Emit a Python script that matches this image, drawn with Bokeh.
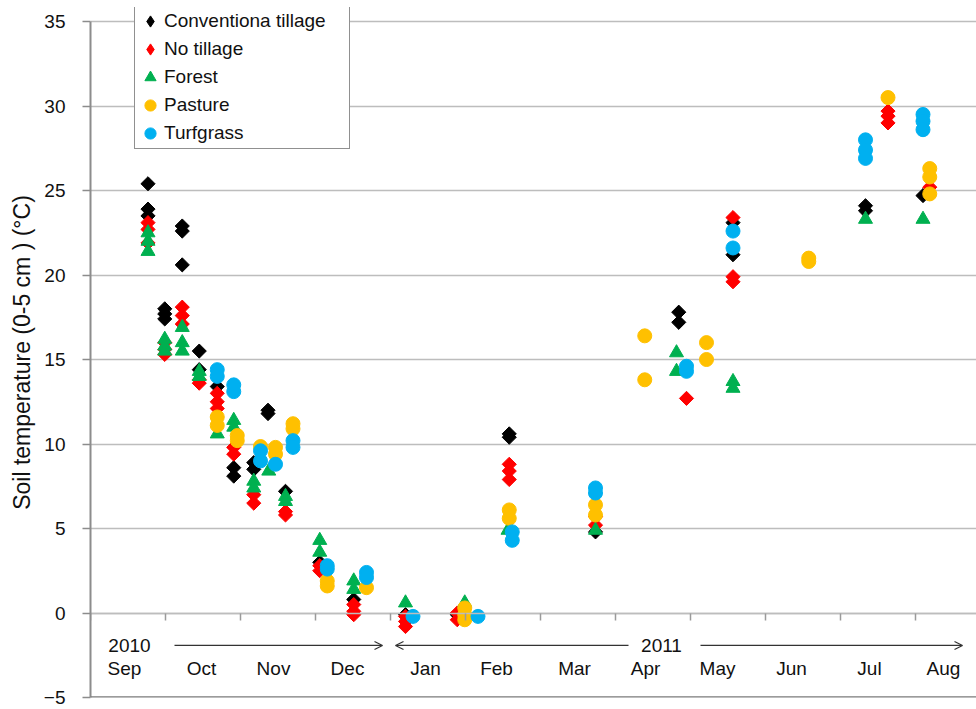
import math
from bokeh.plotting import figure
from bokeh.models import (Range1d, SingleIntervalTicker, LinearAxis, Legend, LegendItem,
                          Arrow, OpenHead, Span, CustomJSTickFormatter)
from bokeh.core.properties import value
from bokeh.embed import file_html
from bokeh.resources import INLINE

FONT = "Liberation Sans"

# x = days since 1 Sep 2010, y = soil temperature (0-5 cm), degC
ct_day = [23, 23, 23, 29.7, 29.7, 29.7, 36.7, 36.7, 36.7, 43.5, 43.5, 50.7, 57.3, 57.3,
          65.3, 65.3, 71, 71, 78, 91.7, 105.3, 126, 146.7, 167.5, 167.5, 202,
          235.3, 235.3, 257, 257, 310, 310, 333]
ct_temp = [25.4, 23.9, 23.5, 18.0, 17.7, 17.4, 22.9, 22.6, 20.6, 15.5, 14.4, 13.4, 8.6, 8.1,
           8.9, 8.5, 12.0, 11.8, 7.2, 3.0, 0.8, -0.1, -0.1, 10.6, 10.4, 4.8,
           17.8, 17.2, 23.1, 21.2, 24.1, 23.8, 24.7]

nt_day = [23, 23, 23, 29.7, 29.7, 29.7, 36.7, 36.7, 36.7, 43.5, 43.5, 50.7, 50.7, 50.7,
          57.3, 57.3, 65.3, 65.3, 78, 78, 91.7, 91.7, 105.3, 105.3, 105.3, 126, 126, 126,
          146.7, 146.7, 167.5, 167.5, 167.5, 202, 202, 238.4, 257, 257, 257,
          319, 319, 319, 335.7]
nt_temp = [23.1, 22.7, 21.9, 16.0, 15.6, 15.3, 18.1, 17.6, 17.1, 13.8, 13.6, 13.0, 12.5, 12.1,
           9.8, 9.4, 7.0, 6.5, 6.0, 5.8, 2.8, 2.5, 0.5, 0.1, -0.1, -0.2, -0.5, -0.8,
           0.0, -0.4, 8.8, 8.4, 7.9, 5.7, 5.2, 12.7, 23.4, 19.9, 19.6,
           29.7, 29.4, 29.0, 25.2]

fo_day = [23, 23, 23, 29.7, 29.7, 29.7, 36.7, 36.7, 36.7, 43.5, 43.5, 50.7, 57.3, 57.3,
          65.3, 65.3, 71.3, 78, 78, 91.7, 91.7, 105.3, 105.3, 126, 149.7, 167, 202,
          234.4, 234.4, 257, 257, 310, 333]
fo_temp = [22.5, 22.0, 21.4, 16.2, 15.8, 15.5, 16.9, 16.0, 15.5, 14.3, 14.0, 10.6, 11.4, 11.0,
           7.8, 7.4, 8.4, 6.9, 6.6, 4.3, 3.6, 1.9, 1.4, 0.6, 0.6, 4.9, 4.9,
           15.4, 14.3, 13.7, 13.3, 23.3, 23.3]

pa_day = [50.7, 50.7, 58.7, 58.7, 68, 74, 74, 81, 81, 94.7, 94.7, 110.4, 149.7, 149.7, 149.7,
          167.5, 167.5, 202, 202, 221.7, 221.7, 246.4, 246.4, 287.3, 287.3, 319,
          335.7, 335.7, 335.7]
pa_temp = [11.6, 11.1, 10.5, 10.2, 9.85, 9.8, 9.4, 11.2, 10.9, 1.9, 1.6, 1.5, 0.3, -0.1, -0.4,
           6.1, 5.6, 6.4, 5.8, 16.4, 13.8, 16.0, 15.0, 21.0, 20.8, 30.5,
           26.3, 25.8, 24.8]

tu_day = [50.7, 50.7, 57.3, 57.3, 68, 68, 74, 81, 81, 94.7, 94.7, 110.4, 110.4, 129, 155,
          168.7, 168.7, 202, 202, 238.4, 238.4, 257, 257, 310, 310, 310, 333, 333, 333]
tu_temp = [14.4, 14.0, 13.5, 13.1, 9.6, 9.0, 8.8, 10.2, 9.8, 2.8, 2.6, 2.4, 2.1, -0.2, -0.2,
           4.8, 4.3, 7.4, 7.1, 14.6, 14.3, 22.6, 21.6, 28.0, 27.4, 26.9, 29.5, 29.1, 28.6]

series_names = ["Conventiona tillage", "No tillage", "Forest", "Pasture", "Turfgrass"]

months = ["Sep", "Oct", "Nov", "Dec", "Jan", "Feb", "Mar", "Apr", "May", "Jun", "Jul", "Aug"]
month_day = [13.6, 44.4, 73.2, 102.8, 134, 162.4, 193.6, 222, 250.8, 280.4, 311.6, 341.2]
years = ["2010", "2011"]
year_day = [15.6, 228.4]

y_tick_interval = 5
x_tick_interval = 30

# the frame reaches a little above 35 so the legend (which sits above the 35 line) is not clipped
p = figure(width=976, height=709, output_backend="svg", toolbar_location=None,
           x_range=Range1d(0, 354.4), y_range=Range1d(-5, 35.83),
           x_axis_location=None,
           min_border_left=90, min_border_top=7, min_border_right=0, min_border_bottom=12)
p.outline_line_color = None
p.background_fill_color = "white"
p.border_fill_color = "white"

# y axis
ya = p.yaxis[0]
ya.ticker = SingleIntervalTicker(interval=y_tick_interval)
ya.bounds = (-5, 35)
ya.minor_tick_line_color = None
ya.major_tick_out = 8
ya.major_tick_in = 0
ya.major_tick_line_color = "#8c8c8c"
ya.major_tick_line_width = 1.5
ya.axis_line_color = "#8c8c8c"
ya.axis_line_width = 2
ya.major_label_standoff = 17
ya.major_label_text_font = FONT
ya.major_label_text_font_size = "19px"
ya.major_label_text_color = "#111111"
ya.axis_label = "Soil temperature (0-5 cm ) (\u00b0C)"
ya.axis_label_text_font = FONT
ya.axis_label_text_font_size = "23px"
ya.axis_label_text_font_style = "normal"
ya.axis_label_text_color = "#111111"
ya.axis_label_standoff = 6

p.ygrid.ticker = SingleIntervalTicker(interval=y_tick_interval)
p.ygrid.grid_line_color = "#bdbdbd"
p.ygrid.grid_line_width = 1.6
p.xgrid.visible = False

# x axis crossing at 0, ticks only (month names are drawn as text below)
xa = LinearAxis(fixed_location=0, ticker=SingleIntervalTicker(interval=x_tick_interval),
                formatter=CustomJSTickFormatter(code="return ''"))
xa.minor_tick_line_color = None
xa.major_tick_out = 7
xa.major_tick_in = 0
xa.major_tick_line_color = "#9a9a9a"
xa.major_tick_line_width = 1.5
xa.axis_line_color = "#bdbdbd"
xa.axis_line_width = 1.6
xa.major_label_standoff = 0
p.add_layout(xa, "below")

p.add_layout(Span(location=-5, dimension="width", line_color="#7a7a7a", line_width=2.5))

# markers. Diamonds are squares turned by 45 degrees; a small plain diamond glyph lies
# hidden beneath each so that the legend shows a diamond (legend swatches ignore angle).
diam = math.pi / 4
lg_ct = p.scatter(ct_day, ct_temp, marker="diamond", size=8, color="#000000")
r_ct = p.scatter(ct_day, ct_temp, marker="square", size=10, angle=diam, color="#000000")
lg_nt = p.scatter(nt_day, nt_temp, marker="diamond", size=8, color="#ff0000")
r_nt = p.scatter(nt_day, nt_temp, marker="square", size=10, angle=diam, color="#ff0000")
r_fo = p.scatter(fo_day, fo_temp, marker="triangle", size=14, color="#00b050")
r_pa = p.scatter(pa_day, pa_temp, marker="circle", size=14, color="#ffc000")
r_tu = p.scatter(tu_day, tu_temp, marker="circle", size=14, color="#00b0f0")

# month / year labels
p.text(x=month_day, y=[-3.3] * len(months), text=months, text_font=value(FONT),
       text_font_size=value("19px"), text_align="center", text_baseline="middle",
       text_color="#111111")
p.text(x=year_day, y=[-1.92] * len(years), text=years, text_font=value(FONT),
       text_font_size=value("19px"), text_align="center", text_baseline="middle",
       text_color="#111111")

def arrow(x0, x1):
    p.add_layout(Arrow(end=OpenHead(size=8, line_color="#333333", line_width=1.2),
                       x_start=x0, y_start=-1.92, x_end=x1, y_end=-1.92,
                       line_color="#333333", line_width=1.2))

arrow(33.6, 116.8)
arrow(215.2, 122)
arrow(244, 348.8)

renderers = [lg_ct, lg_nt, r_fo, r_pa, r_tu]
legend = Legend(items=[LegendItem(label=n, renderers=[r]) for n, r in zip(series_names, renderers)],
                location=(44, 548), orientation="vertical",
                border_line_color="#222222", border_line_width=1.5,
                background_fill_color="white", background_fill_alpha=1,
                label_text_font=FONT, label_text_font_size="19px", label_text_color="#111111",
                glyph_width=28, glyph_height=28, label_height=20, spacing=0, padding=1,
                margin=0, label_standoff=0, label_width=184)
p.add_layout(legend)

open("out.html", "w").write(file_html(p, INLINE))
